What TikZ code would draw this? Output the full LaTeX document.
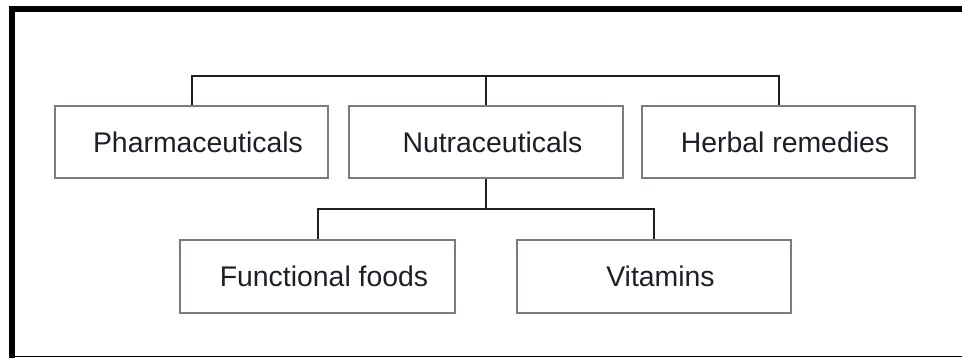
\documentclass[tikz,border=0pt]{standalone}
\usepackage{fontspec}
\setmainfont{Liberation Sans}
\begin{document}
\begin{tikzpicture}[x=1pt,y=-1pt,
  catbox/.style={draw=boxgray,line width=2.4pt,fill=white,minimum width=273pt,minimum height=72pt,inner sep=0pt,font=\fontsize{28.4}{32}\selectfont,text=textdark,execute at begin node={\hspace*{13pt}}},
  link/.style={draw=black!88,line width=2pt},
  frameline/.style={draw=black,line width=5.5pt}]
\definecolor{boxgray}{HTML}{757C84}
\definecolor{textdark}{HTML}{1E1E28}
\useasboundingbox[fill=white] (0,0) rectangle (962,358);
% frame
\draw[frameline] (12,9) -- (962,9);
\draw[frameline] (12,6.5) -- (12,358);
\draw[draw=black,line width=1.5pt] (9,356.5) -- (962,356.5);
% nodes
\node[catbox] (pharma) at (191.5,142) {Pharmaceuticals};
\node[catbox,minimum width=274pt] (nutra) at (486,142) {Nutraceuticals};
\node[catbox] (herbal) at (778.5,142) {Herbal remedies};
\node[catbox,minimum width=275pt,minimum height=73pt] (func) at (317.5,276.5) {Functional foods};
\node[catbox,minimum width=274pt,minimum height=73pt] (vit) at (654,276.5) {Vitamins};
% connectors
\coordinate (topbar) at (0,76);
\coordinate (midbar) at (0,209);
\draw[link] (pharma.north) -- (pharma.north |- topbar) -- (herbal.north |- topbar) -- (herbal.north);
\draw[link] (nutra.north) -- (nutra.north |- topbar);
\draw[link] (nutra.south) -- (nutra.south |- midbar);
\draw[link] (func.north) -- (func.north |- midbar) -- (vit.north |- midbar) -- (vit.north);
\end{tikzpicture}
\end{document}
